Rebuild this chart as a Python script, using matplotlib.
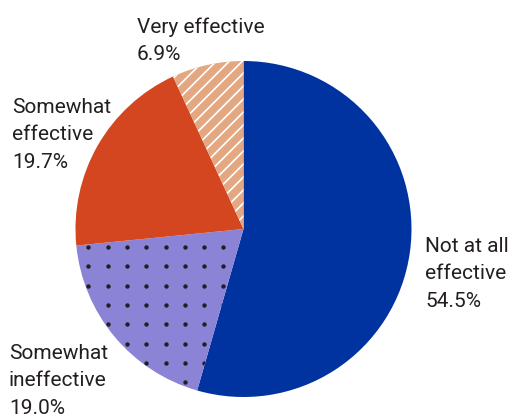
import numpy as np
import matplotlib
matplotlib.use("Agg")
import matplotlib.pyplot as plt
from matplotlib.collections import LineCollection

# data
labels = ["Not at all\neffective", "Somewhat\nineffective", "Somewhat\neffective", "Very effective"]
shares = [54.5, 19.0, 19.7, 6.9]
colors = ["#0033a0", "#8a83d6", "#d4461f", "#e3a882"]

plt.rcParams['font.family'] = ['Roboto', 'DejaVu Sans']

fig = plt.figure(figsize=(5.12, 4.17), dpi=100)
ax = fig.add_axes([0, 0, 1, 1])

cx, cy, r = 243.5, 188, 168
wedges, _ = ax.pie(shares, colors=colors, startangle=90, counterclock=False,
                   center=(cx, cy), radius=r, frame=True,
                   wedgeprops=dict(linewidth=0))
ax.set_xlim(0, 512)
ax.set_ylim(0, 417)
ax.set_aspect('equal')
ax.axis('off')

# white diagonal hatch on "Very effective"
segs = []
for k in np.arange(-40, 40):
    x0 = cx + k * 13
    segs.append([(x0 - 300, cy - 300), (x0 + 300, cy + 300)])
lc = LineCollection(segs, colors='white', linewidths=1.2, zorder=3)
ax.add_collection(lc)
lc.set_clip_path(wedges[3])

# dot pattern on "Somewhat ineffective"
gx, gy = np.meshgrid(np.arange(88.3, 260, 19.3), 417 - np.arange(247, 420, 19.3))
dots = ax.scatter(gx.ravel(), gy.ravel(), s=10, color='#231f20', zorder=3, linewidths=0)
dots.set_clip_path(wedges[1])

# labels: (x, first baseline) in pixels from top-left
label_pos = [(425, 252), (9, 359), (12, 113), (137, 33)]
step = 27.3
for lab, val, (x, y0) in zip(labels, shares, label_pos):
    lines = lab.split("\n") + [f"{val:.1f}%"]
    for i, line in enumerate(lines):
        ax.text(x, 417 - (y0 + i * step), line, fontsize=15, color='#231f20',
                va='baseline', ha='left')

fig.savefig("out.png", dpi=100)
